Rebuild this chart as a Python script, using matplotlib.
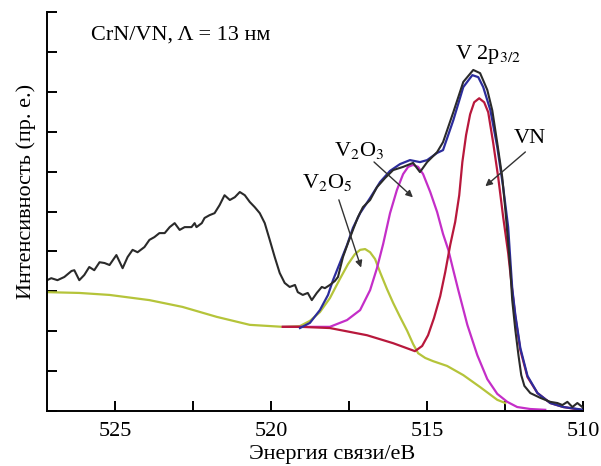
import numpy as np
import matplotlib.pyplot as plt
from matplotlib.ticker import MultipleLocator, FuncFormatter

plt.rcParams['font.family'] = ['Liberation Serif', 'DejaVu Serif']
plt.rcParams['mathtext.fontset'] = 'stix'

## experimental spectrum (binding energy, intensity)
exp_e = [527.19, 527.06, 526.86, 526.64, 526.41, 526.32, 526.16, 526.00, 525.84, 525.68,
         525.51, 525.35, 525.19, 524.97, 524.77, 524.61, 524.45, 524.29, 524.07, 523.91,
         523.75, 523.59, 523.42, 523.26, 523.10, 522.94, 522.78, 522.56, 522.46, 522.40,
         522.23, 522.14, 521.98, 521.82, 521.66, 521.50, 521.33, 521.17, 521.01, 520.85,
         520.69, 520.53, 520.37, 520.21, 520.05, 519.89, 519.73, 519.57, 519.41, 519.24,
         519.15, 518.99, 518.83, 518.70, 518.54, 518.38, 518.28, 518.12, 517.96, 517.86,
         517.70, 517.54, 517.38, 517.22, 517.06, 516.83, 516.61, 516.35, 516.09, 515.77,
         515.45, 515.23, 515.00, 514.68, 514.49, 514.16, 513.84, 513.52, 513.30, 513.07,
         512.91, 512.75, 512.59, 512.49, 512.40, 512.33, 512.27, 512.17, 512.07, 511.98,
         511.88, 511.69, 511.37, 511.05, 510.82, 510.66, 510.50, 510.34, 510.18, 510.02]
exp_i = [3.28, 3.33, 3.28, 3.36, 3.51, 3.53, 3.28, 3.41, 3.61, 3.53,
         3.73, 3.71, 3.66, 3.91, 3.58, 3.86, 4.04, 3.98, 4.11, 4.29,
         4.36, 4.46, 4.46, 4.61, 4.71, 4.54, 4.61, 4.61, 4.71, 4.61,
         4.71, 4.84, 4.91, 4.96, 5.16, 5.41, 5.29, 5.36, 5.49, 5.41,
         5.24, 5.11, 4.96, 4.71, 4.29, 3.86, 3.46, 3.21, 3.11, 3.16,
         2.98, 2.91, 2.96, 2.78, 2.96, 3.11, 3.08, 3.16, 3.26, 3.36,
         3.86, 4.21, 4.54, 4.86, 5.11, 5.29, 5.61, 5.84, 6.04, 6.12,
         6.22, 5.99, 6.24, 6.49, 6.74, 7.49, 8.25, 8.55, 8.47, 8.05,
         7.54, 6.72, 5.86, 5.04, 4.21, 3.53, 2.78, 2.03, 1.40, 0.90,
         0.63, 0.45, 0.33, 0.23, 0.20, 0.15, 0.23, 0.10, 0.20, 0.10]

## fit envelope
env_e = [519.08, 518.76, 518.44, 518.18, 518.02, 517.80, 517.57, 517.38, 517.15, 516.83,
         516.51, 516.19, 515.87, 515.55, 515.23, 515.00, 514.68, 514.49, 514.16, 513.84,
         513.55, 513.36, 513.20, 512.97, 512.75, 512.56, 512.40, 512.33, 512.27, 512.17,
         512.01, 511.78, 511.46, 511.05, 510.63, 509.98]
env_i = [2.08, 2.21, 2.53, 2.91, 3.28, 3.71, 4.16, 4.59, 4.96, 5.34,
         5.74, 6.02, 6.19, 6.29, 6.24, 6.29, 6.47, 6.54, 7.29, 8.12,
         8.42, 8.37, 8.12, 7.54, 6.62, 5.61, 4.61, 3.78, 3.08, 2.41,
         1.58, 0.88, 0.45, 0.20, 0.10, 0.03]

## V2O5 component on background
v2o5_e = [527.22, 526.16, 525.19, 523.91, 522.85, 521.75, 520.69, 519.63, 519.08, 518.76,
          518.44, 518.12, 517.80, 517.54, 517.32, 517.15, 516.99, 516.83, 516.67, 516.51,
          516.29, 516.09, 515.87, 515.64, 515.45, 515.29, 515.06, 514.81, 514.36, 513.84,
          513.30, 512.75, 512.49]
v2o5_i = [2.98, 2.96, 2.91, 2.78, 2.61, 2.36, 2.16, 2.11, 2.13, 2.26,
          2.48, 2.83, 3.31, 3.68, 3.93, 4.04, 4.06, 3.98, 3.81, 3.48,
          3.06, 2.71, 2.36, 2.01, 1.68, 1.45, 1.33, 1.25, 1.13, 0.90,
          0.60, 0.28, 0.20]

## V2O3 component on background
v2o3_e = [519.63, 519.08, 518.12, 517.57, 517.15, 516.83, 516.61, 516.41, 516.19, 515.97,
          515.77, 515.61, 515.45, 515.29, 515.13, 514.90, 514.68, 514.49, 514.32, 514.16,
          514.00, 513.71, 513.39, 513.07, 512.75, 512.43, 512.11, 511.69, 511.21]
v2o3_i = [2.11, 2.11, 2.11, 2.28, 2.53, 3.03, 3.58, 4.19, 4.96, 5.54,
          5.94, 6.12, 6.17, 6.12, 5.94, 5.49, 4.99, 4.44, 4.04, 3.53,
          3.03, 2.16, 1.40, 0.80, 0.43, 0.23, 0.10, 0.05, 0.03]

## VN component on background
vn_e = [519.63, 519.08, 518.12, 516.93, 516.09, 515.39, 515.16, 514.97, 514.78, 514.58,
        514.42, 514.26, 514.10, 513.97, 513.87, 513.75, 513.62, 513.49, 513.33, 513.17,
        513.04, 512.88, 512.72, 512.56, 512.40, 512.27, 512.17, 512.01, 511.78, 511.46,
        511.05, 510.63, 510.08]
vn_i = [2.11, 2.11, 2.08, 1.90, 1.70, 1.50, 1.63, 1.90, 2.33, 2.88,
        3.48, 4.16, 4.74, 5.41, 6.24, 6.92, 7.44, 7.74, 7.84, 7.74,
        7.49, 6.72, 5.86, 4.86, 3.96, 3.03, 2.36, 1.53, 0.85, 0.45,
        0.20, 0.10, 0.03]

fs = 16

fig = plt.figure(figsize=(6.01, 4.66), dpi=100)
ax = fig.add_axes([0.078, 0.118, 0.892, 0.856])

ax.plot(v2o5_e, v2o5_i, color='#b5c43a', lw=1.6)
ax.plot(v2o3_e, v2o3_i, color='#c42ec8', lw=1.6)
ax.plot(vn_e, vn_i, color='#b8183c', lw=1.6)
ax.plot(env_e, env_i, color='#2c2c9c', lw=1.6)
ax.plot(exp_e, exp_i, color='#2a2a2a', lw=1.5)

ax.set_xlim(527.2, 510)
ax.set_ylim(0, 10)

ax.spines['top'].set_visible(False)
ax.spines['right'].set_visible(False)
for s in ['left', 'bottom']:
    ax.spines[s].set_linewidth(1.4)

ax.xaxis.set_major_locator(MultipleLocator(2.5))
ax.xaxis.set_major_formatter(FuncFormatter(lambda v, p: '%d' % v if abs(v % 5) < 1e-6 else ''))
ax.yaxis.set_major_locator(MultipleLocator(1))
ax.tick_params(direction='in', length=7, width=1.4, labelsize=fs, pad=8)
ax.tick_params(axis='y', labelleft=False)

ax.set_xlabel('Энергия связи/еВ', fontsize=fs, labelpad=3)
ax.xaxis.label.set_x(0.532)
ax.set_ylabel('Интенсивность (пр. е.)', fontsize=fs, labelpad=8)
ax.yaxis.label.set_y(0.55)

ax.text(525.8, 9.42, 'CrN/VN, Λ = 13 нм', fontsize=fs, va='center')
ax.text(513.04, 8.95, 'V 2p$_{3/2}$', fontsize=fs, ha='center', va='center')
ax.text(511.69, 6.84, 'VN', fontsize=fs, ha='center', va='center')
ax.text(517.19, 6.54, 'V$_2$O$_3$', fontsize=fs, ha='center', va='center')
ax.text(518.22, 5.74, 'V$_2$O$_5$', fontsize=fs, ha='center', va='center')

arw = dict(arrowstyle='-|>', lw=1.0, color='#333333', mutation_scale=10)
ax.annotate('', xy=(515.39, 5.31), xytext=(516.77, 6.29), arrowprops=arw)
ax.annotate('', xy=(517.09, 3.53), xytext=(517.86, 5.36), arrowprops=arw)
ax.annotate('', xy=(513.20, 5.59), xytext=(511.78, 6.54), arrowprops=arw)

fig.savefig('out.png', dpi=100)
